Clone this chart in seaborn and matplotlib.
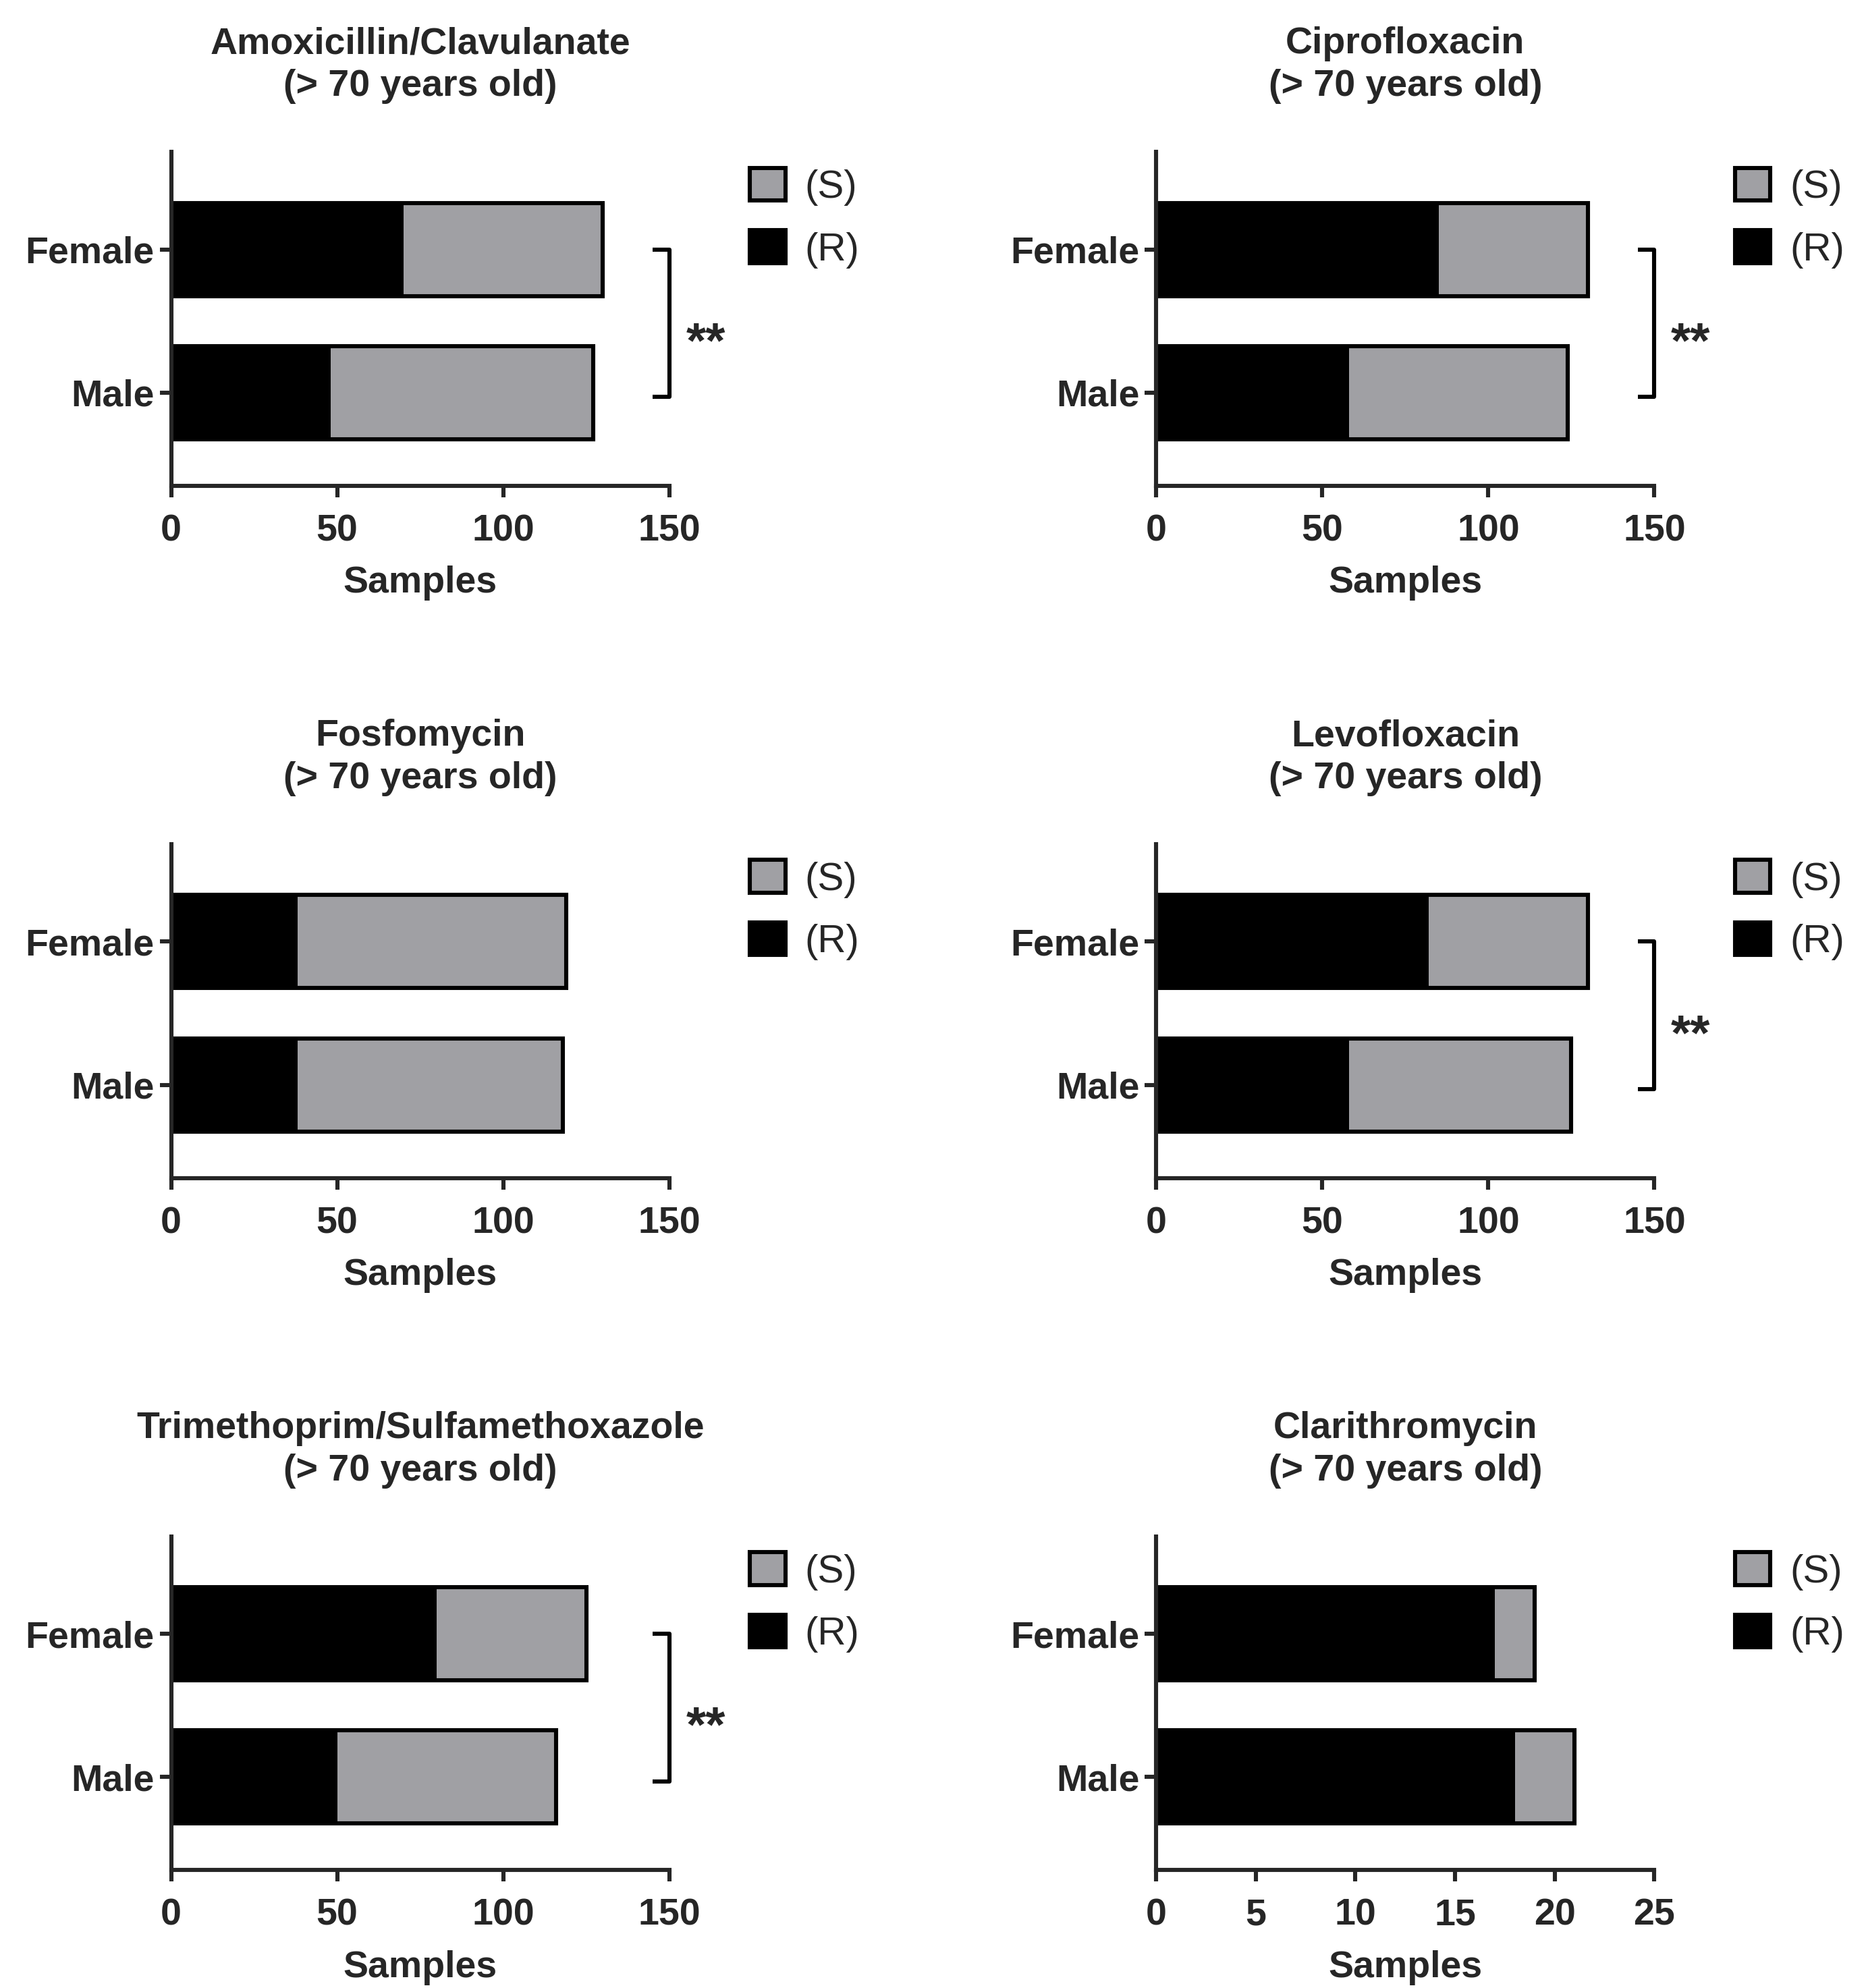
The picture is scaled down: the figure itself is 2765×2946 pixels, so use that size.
import matplotlib
matplotlib.use("Agg")
import matplotlib.pyplot as plt
from matplotlib.patches import Patch
import seaborn as sns
import pandas as pd

# 데이터
sexes = ["Female", "Male"]

drugs = ["Amoxicillin/Clavulanate", "Ciprofloxacin", "Fosfomycin",
         "Levofloxacin", "Trimethoprim/Sulfamethoxazole", "Clarithromycin"]

# 내성 (R) 샘플 수
amox_r = [70, 48]
cipro_r = [85, 58]
fosfo_r = [38, 38]
levo_r = [82, 58]
tmp_r = [80, 50]
clari_r = [17, 18]

# 전체 샘플 수 (R + S)
amox_total = [130, 127]
cipro_total = [130, 124]
fosfo_total = [119, 118]
levo_total = [130, 125]
tmp_total = [125, 116]
clari_total = [19, 21]

r_values = [amox_r, cipro_r, fosfo_r, levo_r, tmp_r, clari_r]
total_values = [amox_total, cipro_total, fosfo_total, levo_total, tmp_total, clari_total]
significant = [True, True, False, True, True, False]
x_max = [150, 150, 150, 150, 150, 25]
x_step = [50, 50, 50, 50, 50, 5]

# 스타일
sns.set_style("ticks")
plt.rcParams['font.family'] = ['Liberation Sans', 'DejaVu Sans']
gray = "#a0a0a4"
lw = 2.2
fs = 20

fig = plt.figure(figsize=(13.825, 14.73), dpi=200)

lefts = [0.0917, 0.6196]
bottoms = [0.7557, 0.4075, 0.0593]
w, h = 0.267, 0.1678

for i, drug in enumerate(drugs):
    ax = fig.add_axes([lefts[i % 2], bottoms[i // 2], w, h])
    df = pd.DataFrame({"sex": sexes, "R": r_values[i], "total": total_values[i]})

    # 전체 (S) 막대 먼저, 그 위에 내성 (R) 막대
    sns.barplot(data=df, x="total", y="sex", orient="h", color=gray, saturation=1,
                width=0.65, edgecolor="black", linewidth=lw, errorbar=None, ax=ax)
    sns.barplot(data=df, x="R", y="sex", orient="h", color="black", saturation=1,
                width=0.65, edgecolor="black", linewidth=0, errorbar=None, ax=ax)

    ax.set_xlim(0, x_max[i])
    ax.set_xticks(range(0, x_max[i] + 1, x_step[i]))
    ax.set_ylim(1.65, -0.68)
    sns.despine(ax=ax)
    for s in ["left", "bottom"]:
        ax.spines[s].set_linewidth(lw)
    ax.tick_params(width=lw, length=6, labelsize=fs, pad=3)
    ax.tick_params(axis="x", pad=9)
    for lab in ax.get_xticklabels() + ax.get_yticklabels():
        lab.set_fontweight("bold")
    ax.set_ylabel("")
    ax.set_xlabel("Samples", fontsize=fs, fontweight="bold", labelpad=9)
    ax.set_title(drug + "\n(> 70 years old)", fontsize=fs, fontweight="bold",
                 pad=30, linespacing=1.27)

    # 범례
    handles = [Patch(facecolor=gray, edgecolor="black", linewidth=lw, label="(S)"),
               Patch(facecolor="black", edgecolor="black", linewidth=lw, label="(R)")]
    ax.legend(handles=handles, loc="upper left", bbox_to_anchor=(1.13, 1.0),
              frameon=False, fontsize=fs + 1, handlelength=0.9, handleheight=0.9,
              handletextpad=0.5, labelspacing=0.62, borderaxespad=0)

    # 유의성 표시
    if significant[i]:
        xm = x_max[i]
        ax.plot([xm * 0.967, xm, xm, xm * 0.967], [0.0, 0.0, 1.03, 1.03],
                color="black", lw=lw, clip_on=False, solid_capstyle="butt")
        ax.text(xm * 1.073, 0.66, "**", fontsize=fs + 7, ha="center", va="center",
                fontweight="bold", clip_on=False)

fig.savefig("out.png", dpi=200)
